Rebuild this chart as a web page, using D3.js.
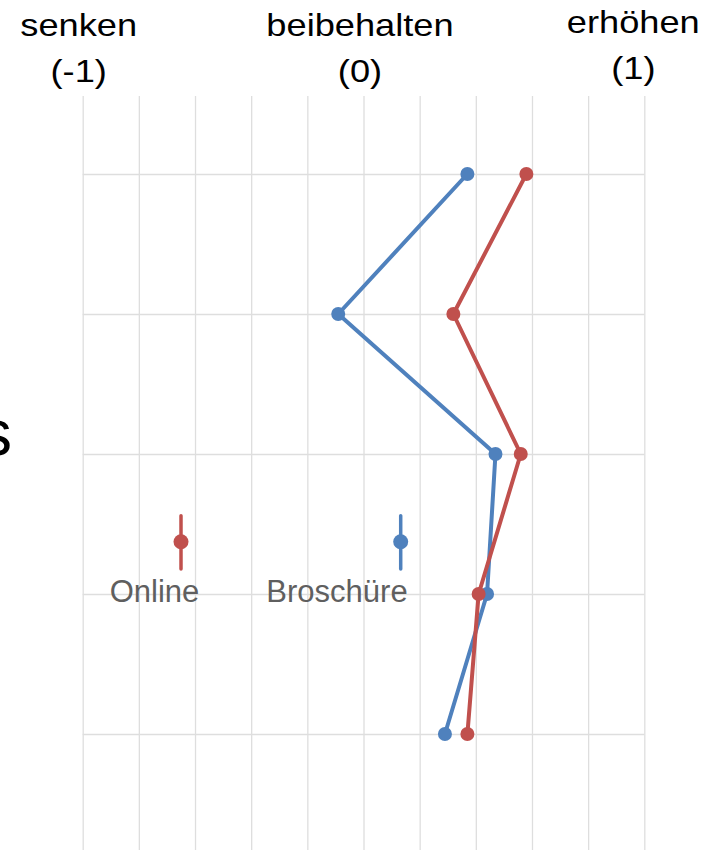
<!DOCTYPE html>
<html>
<head>
<meta charset="utf-8">
<script src="https://cdn.jsdelivr.net/npm/d3@7"></script>
<style>
  body { margin: 0; background: #fff; }
  svg { display: block; font-family: 'Liberation Sans', Arial, sans-serif; }
  .grid line { stroke: #dedede; stroke-width: 1.3; }
  .grid .domain { display: none; }
</style>
</head>
<body>
<div id="chart"></div>
<script>
// values on the -1 .. 1 scale, one per row (top to bottom)
var rows = ['1', '2', '3', '4', '5'];
var online = [0.58, 0.32, 0.56, 0.41, 0.37];
var broschuere = [0.37, -0.09, 0.47, 0.44, 0.29];
var scaleWords = ['senken', 'beibehalten', 'erhöhen'];
var scaleValues = [-1, 0, 1];
var seriesNames = ['Online', 'Broschüre'];

var svgWidth = 718;
var svgHeight = 850;

var svg = d3.select('#chart').append('svg')
  .attr('width', svgWidth)
  .attr('height', svgHeight);

var xScale = d3.scaleLinear()
  .domain([-1, 1])
  .range([82.7, 644.3]);
var yScale = d3.scalePoint()
  .domain(rows)
  .range([174, 734]);

var gridTop = 96;
var gridBottom = 850;

// vertical grid
var xGrid = d3.axisBottom(xScale)
  .ticks(10)
  .tickSize(-(gridBottom - gridTop))
  .tickFormat('');
svg.append('g')
  .attr('class', 'grid')
  .attr('transform', 'translate(0, ' + gridBottom + ')')
  .call(xGrid);

// horizontal grid
var yGrid = d3.axisLeft(yScale)
  .tickSize(-(xScale.range()[1] - xScale.range()[0]))
  .tickFormat('');
svg.append('g')
  .attr('class', 'grid')
  .attr('transform', 'translate(' + xScale.range()[0] + ', 0)')
  .call(yGrid);

// clipped row label at the left edge
svg.append('text')
  .attr('x', -20)
  .attr('y', 455)
  .attr('font-size', 64)
  .attr('fill', '#000')
  .text('s');

// scale words on top
var labelShift = [-4, -3.5, -11];
var labelDrop = [0, 0, -3];
scaleWords.forEach(function (word, i) {
  var g = svg.append('g')
    .attr('transform', 'translate(' + (xScale(scaleValues[i]) + labelShift[i]) + ', ' + labelDrop[i] + ') scale(1.15, 1)');
  g.append('text')
    .attr('y', 36.5)
    .attr('text-anchor', 'middle')
    .attr('font-size', 31.5)
    .attr('fill', '#000')
    .text(word);
  g.append('text')
    .attr('y', 82.5)
    .attr('text-anchor', 'middle')
    .attr('font-size', 31.5)
    .attr('fill', '#000')
    .text('(' + scaleValues[i] + ')');
});

var colors = ['#c0504d', '#4f81bd'];
var series = [online, broschuere];

var line = d3.line()
  .x(function (d) { return xScale(d); })
  .y(function (_, i) { return yScale(rows[i]); });

// blue drawn first, red on top
[1, 0].forEach(function (s) {
  svg.append('path')
    .datum(series[s])
    .attr('fill', 'none')
    .attr('stroke', colors[s])
    .attr('stroke-width', 4)
    .attr('stroke-linejoin', 'round')
    .attr('d', line);
  svg.selectAll('.dot' + s)
    .data(series[s])
    .enter().append('circle')
    .attr('class', 'dot' + s)
    .attr('cx', function (d) { return xScale(d); })
    .attr('cy', function (_, i) { return yScale(rows[i]); })
    .attr('r', 7)
    .attr('fill', colors[s]);
});

// legend
var legendMarkX = [181, 400.7];
var legendTextX = [154.5, 337];
seriesNames.forEach(function (name, i) {
  svg.append('line')
    .attr('x1', legendMarkX[i]).attr('x2', legendMarkX[i])
    .attr('y1', 515.7).attr('y2', 569)
    .attr('stroke', colors[i])
    .attr('stroke-width', 3.5)
    .attr('stroke-linecap', 'round');
  svg.append('circle')
    .attr('cx', legendMarkX[i])
    .attr('cy', 541.7)
    .attr('r', 7.5)
    .attr('fill', colors[i]);
  svg.append('text')
    .attr('x', legendTextX[i])
    .attr('y', 601.7)
    .attr('text-anchor', 'middle')
    .attr('font-size', 31)
    .attr('fill', '#5f5f5f')
    .text(name);
});
</script>
</body>
</html>
